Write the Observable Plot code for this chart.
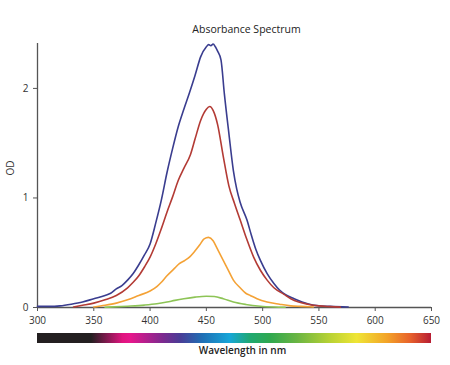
<!DOCTYPE html>
<html>
<head>
<meta charset="utf-8">
<script src="https://cdn.jsdelivr.net/npm/d3@7"></script>
<script src="https://cdn.jsdelivr.net/npm/@observablehq/plot@0.6"></script>
<style>
  body { margin: 0; background: #fff; }
  #chart svg { display: block; }
</style>
</head>
<body>
<div id="chart"></div>
<script>
// ---- data ----
const xTicks = [300, 350, 400, 450, 500, 550, 600, 650];
const yTicks = [0, 1, 2];

const nmBlue = [300,310,320,330,340,350,360,365,370,375,380,385,390,395,400,405,410,415,420,425,430,435,440,445,450,452,454,456,458,460,463,466,470,474,477,480,486,490,494,498,504,510,515,520,528,535,540,548,560,576];
const odBlue = [0.01,0.01,0.015,0.03,0.05,0.08,0.11,0.13,0.17,0.2,0.25,0.31,0.39,0.48,0.58,0.77,0.98,1.23,1.45,1.65,1.81,1.96,2.12,2.29,2.38,2.40,2.39,2.405,2.38,2.34,2.26,1.95,1.59,1.25,1.08,0.96,0.80,0.66,0.53,0.43,0.31,0.22,0.16,0.12,0.08,0.05,0.035,0.018,0.01,0.005];

const nmRed = [332,340,350,360,370,380,385,390,395,400,405,410,415,420,425,430,436,440,445,450,453,456,460,465,470,475,480,486,492,498,504,510,519,525,532,540,550,560,569];
const odRed = [0.005,0.02,0.04,0.07,0.11,0.18,0.23,0.29,0.37,0.46,0.58,0.72,0.87,1.01,1.16,1.27,1.40,1.54,1.71,1.81,1.835,1.80,1.67,1.38,1.11,0.95,0.80,0.62,0.46,0.34,0.25,0.18,0.12,0.08,0.05,0.03,0.015,0.008,0.003];

const nmOrange = [350,360,370,380,390,400,406,410,415,421,426,431,435,439,444,448,452,456,460,465,470,474,480,485,489,495,504,515,525,534,545];
const odOrange = [0.005,0.02,0.04,0.07,0.11,0.15,0.19,0.23,0.29,0.35,0.40,0.43,0.46,0.505,0.57,0.627,0.64,0.61,0.53,0.43,0.33,0.25,0.18,0.13,0.11,0.08,0.05,0.03,0.015,0.01,0.005];

const nmGreen = [360,380,395,406,415,422,430,440,450,457,465,474,485,498,510,520];
const odGreen = [0.002,0.012,0.022,0.034,0.05,0.065,0.08,0.095,0.103,0.10,0.08,0.05,0.028,0.012,0.005,0.002];

const seriesColors = ["#3a3d8f", "#b33b35", "#f4a236", "#8dc456"];

// colour bar stops (wavelength -> colour)
const barStopsNm = [300, 348, 376, 383, 412, 427, 447, 471, 489, 507, 531, 560, 584, 611, 631, 650];
const barStopsColor = ["#231f20", "#231f20", "#e0147f", "#e6168b", "#7b2a8f", "#4a3c96", "#1f6fb5", "#16a6d8", "#1fa872", "#2fa84f", "#6ab543", "#b8d234", "#efe535", "#f3a328", "#e8632b", "#b71c33"];

// ---- build tables ----
const toRows = (nm, od) => nm.map((w, i) => ({nm: w, od: od[i]}));
const series = [
  toRows(nmBlue, odBlue),
  toRows(nmRed, odRed),
  toRows(nmOrange, odOrange),
  toRows(nmGreen, odGreen)
];

const font = "'Open Sans', 'DejaVu Sans', sans-serif";

const main = Plot.plot({
  width: 450,
  height: 330,
  marginTop: 43,
  marginBottom: 23,
  marginLeft: 37,
  marginRight: 19,
  style: {fontFamily: font, fontSize: "10px", color: "#333", background: "white", fontVariantNumeric: "oldstyle-nums"},
  x: {domain: [300, 650]},
  y: {domain: [0, 2.41]},
  marks: [
    Plot.axisX({ticks: xTicks, tickSize: 4, tickPadding: 5, tickFormat: "d", label: null, stroke: "#555", fontSize: 10}),
    Plot.axisY({ticks: yTicks, tickSize: 4, tickPadding: 5, tickFormat: "d", label: null, stroke: "#555", fontSize: 10}),
    Plot.ruleX([300], {stroke: "#555", strokeWidth: 1.3}),
    Plot.ruleY([0], {stroke: "#555", strokeWidth: 1.3}),
    ...series.map((rows, i) => Plot.line(rows, {
      x: "nm", y: "od", stroke: seriesColors[i], strokeWidth: 1.6, curve: "monotone-x"
    })),
    Plot.text(["Absorbance Spectrum"], {text: d => d, frameAnchor: "top", dx: 12, dy: -18, fontSize: 10.5, fill: "#222"}),
    Plot.text(["OD"], {text: d => d, frameAnchor: "left", dx: -27, rotate: -90, fontSize: 10, fill: "#333"})
  ]
});

const bar = Plot.plot({
  width: 450,
  height: 35,
  marginTop: 3,
  marginBottom: 22,
  marginLeft: 37,
  marginRight: 19,
  style: {fontFamily: font, fontSize: "10px", color: "#333", background: "white"},
  x: {domain: [300, 650], axis: null},
  y: {domain: [0, 1], axis: null},
  marks: [
    Plot.rect([0], {x1: 300, x2: 650, y1: 0, y2: 1, fill: "url(#spectrumGradient)"}),
    Plot.text(["Wavelength in nm"], {text: d => d, frameAnchor: "bottom", dx: 8, dy: 10, fontSize: 10, fontWeight: 600, fill: "#222"})
  ]
});

// gradient definition for the colour bar (offsets from the stop wavelengths)
const svgBar = d3.select(bar.tagName === "svg" ? bar : bar.querySelector("svg"));
const grad = svgBar.insert("defs", ":first-child")
  .append("linearGradient")
  .attr("id", "spectrumGradient")
  .attr("x1", "0%").attr("x2", "100%").attr("y1", "0%").attr("y2", "0%");
barStopsNm.forEach((nm, i) => {
  grad.append("stop")
    .attr("offset", ((nm - 300) / 350 * 100) + "%")
    .attr("stop-color", barStopsColor[i]);
});

const root = document.getElementById("chart");
root.appendChild(main);
root.appendChild(bar);
</script>
</body>
</html>
